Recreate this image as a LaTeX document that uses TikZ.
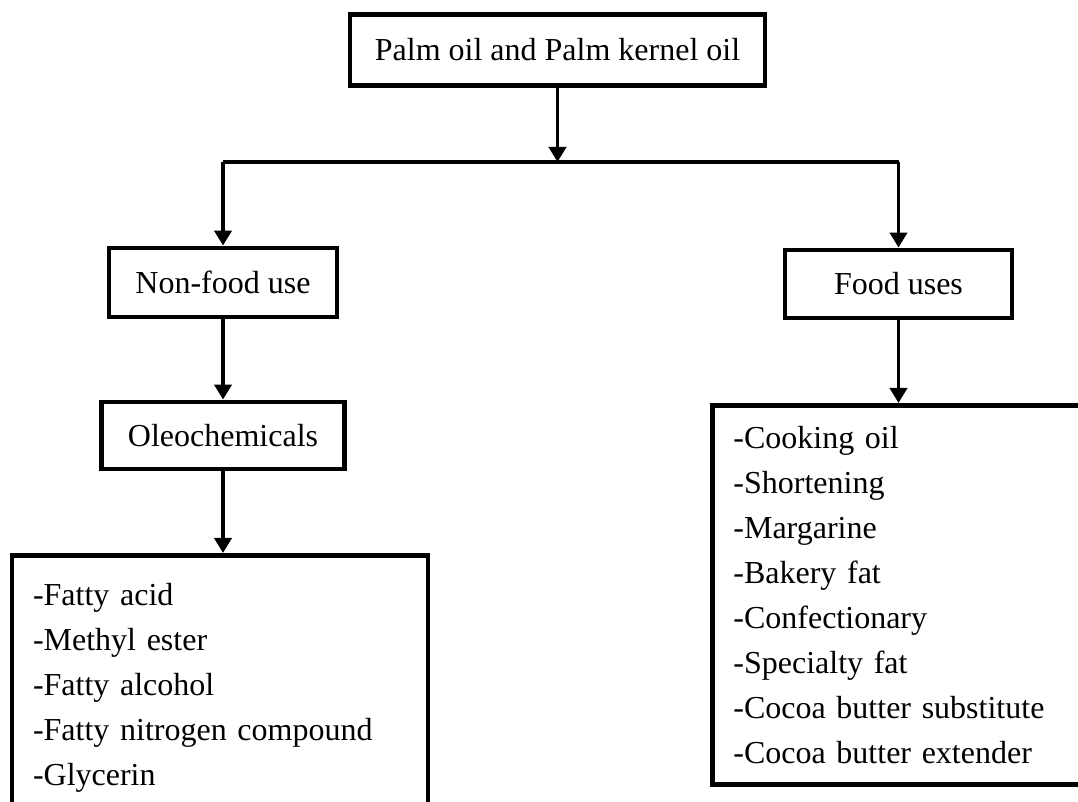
\documentclass[tikz,border=0pt]{standalone}
\usepackage{fontspec}
\setmainfont{Liberation Serif}
\usetikzlibrary{arrows.meta}

\begin{document}
\begin{tikzpicture}
  [x=.5pt,y=-.5pt,
   every node/.style={draw,line width=2.4pt,font=\fontsize{16}{22.5}\selectfont},
   box/.style={minimum height=34pt},
   list/.style={align=left,inner xsep=10.5pt},
   arr/.style={line width=1.9pt,-{Triangle[width=8.5pt,length=7.5pt]}}]
  \useasboundingbox (0,0) rectangle (1078,802);
  \clip (0,0) rectangle (1078,802);

  \node[box,minimum width=207.5pt,minimum height=35.5pt] (oil) at (557.5,50) {Palm oil and Palm kernel oil};
  \node[box,minimum width=114pt,minimum height=34.5pt] (nonfood) at (223,282.5) {Non-food use};
  \node[box,minimum width=121.5pt,minimum height=33.5pt] (oleo) at (223,435.5) {Oleochemicals};
  \node[box,minimum width=113.5pt] (food) at (898.5,284) {Food uses};
  \node[list,anchor=north,text width=187pt,inner ysep=14pt] (chem) at (220,553)
    {-Fatty acid\\-Methyl ester\\-Fatty alcohol\\-Fatty nitrogen compound\\-Glycerin};
  \node[list,anchor=north west,text width=186pt,minimum height=189.5pt] (foodlist) at (710,403)
    {-Cooking oil\\-Shortening\\-Margarine\\-Bakery fat\\-Confectionary\\-Specialty fat\\-Cocoa butter substitute\\-Cocoa butter extender};

  \coordinate (bar) at (557.5,162);
  \coordinate (lbar) at (nonfood |- bar);
  \coordinate (rbar) at (food |- bar);
  \draw[line width=1.7pt] (lbar) -- (rbar);
  \draw[arr] (oil) -- (bar);

  \foreach \from/\to in {lbar/nonfood,rbar/food,nonfood/oleo,oleo/chem,food/foodlist}
    \draw[arr] (\from) -- (\from |- \to.north);

\end{tikzpicture}
\end{document}
